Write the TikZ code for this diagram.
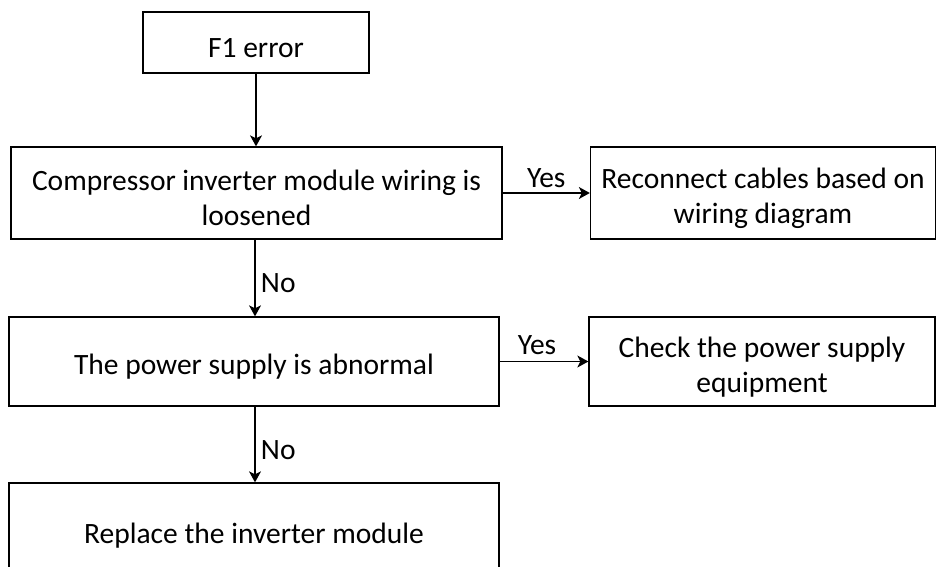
\documentclass[tikz,border=0pt]{standalone}
\usepackage{fontspec}
\setmainfont{Carlito}
\usetikzlibrary{arrows.meta}
\newcommand{\tallstrut}{\rule{0pt}{31pt}}
\tikzset{
  stepbox/.style={draw,line width=1.3pt,align=center,inner sep=0pt},
  flow/.style={line width=1.3pt,-{Stealth[length=11pt,width=12pt,inset=3pt]}}
}
\begin{document}
\begin{tikzpicture}[x=1pt,y=-1pt,font=\fontsize{29.5}{35}\selectfont]
  \useasboundingbox (0,0) rectangle (937,566);
  % left column
  \node[stepbox,minimum width=226,minimum height=61] (f1err) at (256,42.5) {\tallstrut F1 error};
  \node[stepbox,minimum width=491,minimum height=92] (loose) at (256.5,193)
    {\tallstrut Compressor inverter module wiring is\\loosened};
  \node[stepbox,minimum width=490,minimum height=89] (power) at (254,361.5)
    {\tallstrut The power supply is abnormal};
  \node[stepbox,minimum width=490,minimum height=94] (replace) at (254,530)
    {\tallstrut Replace the inverter module};
  % right column
  \node[stepbox,minimum width=345,minimum height=92] (reconnect) at (763,193)
    {\tallstrut Reconnect cables based on\\wiring diagram};
  \node[stepbox,minimum width=346,minimum height=89] (checkpower) at (762,361.5)
    {\tallstrut Check the power supply\\equipment};
  % arrows
  \draw[flow] (f1err.south) -- (f1err.south |- loose.north);
  \draw[flow] (loose.south -| 255,0) -- node[right=2pt,yshift=-5pt] {No} (power.north -| 255,0);
  \draw[flow] (power.south -| 255,0) -- node[right=2pt,yshift=-5.5pt] {No} (replace.north -| 255,0);
  \draw[flow] (loose.east) -- node[above=1pt] {Yes} (reconnect.west);
  \draw[flow] (power.east) -- node[above=3pt,xshift=-7pt] {Yes} (checkpower.west);
\end{tikzpicture}
\end{document}
